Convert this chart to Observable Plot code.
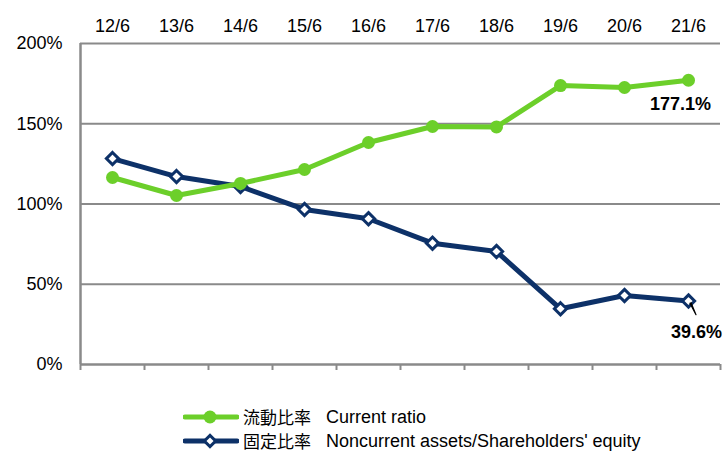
<!DOCTYPE html>
<html>
<head>
<meta charset="utf-8">
<script src="https://cdn.jsdelivr.net/npm/d3@7"></script>
<script src="https://cdn.jsdelivr.net/npm/@observablehq/plot@0.6"></script>
<style>
  body { margin: 0; background: #fff; font-family: "Liberation Sans", Arial, "Noto Sans CJK JP", sans-serif; }
  #chart { position: relative; width: 726px; height: 452px; overflow: hidden; }
  .legend { position: absolute; left: 183px; top: 405px; width: 540px; font-size: 18px; color: #000; white-space: nowrap; }
  .row { display: flex; align-items: center; height: 24px; line-height: 18px; white-space: nowrap; }
  .row svg { margin-right: 4px; flex: none; }
  .jp { font-family: "Noto Sans CJK JP", sans-serif; font-size: 17px; line-height: 18px; }
  .en { margin-left: 15px; line-height: 18px; }
</style>
</head>
<body>
<div id="chart"></div>
<script>
const periods = ["12/6","13/6","14/6","15/6","16/6","17/6","18/6","19/6","20/6","21/6"];
const currentRatio = [116.5,105.3,112.8,121.5,138.3,148.3,148.0,173.8,172.6,177.1];
const fixedRatio = [128.3,117.1,110.9,96.6,90.8,75.6,70.4,34.7,43.0,39.6];
const yTicks = [0,50,100,150,200];
const seriesNames = [["流動比率","Current ratio"],["固定比率","Noncurrent assets/Shareholders' equity"]];
const green = "#6ccf2a";
const navy = "#0d3168";
const grid = "#8a8a8a";

const data = periods.map((p,i) => ({i: i + 0.5, p, c: currentRatio[i], f: fixedRatio[i]}));
const last = data[data.length - 1];

const plot = Plot.plot({
  width: 726, height: 385,
  marginTop: 43, marginBottom: 21, marginLeft: 80, marginRight: 6,
  style: {fontFamily: "'Liberation Sans', Arial, sans-serif", fontSize: "18px", background: "#fff", overflow: "visible"},
  x: {domain: [0, periods.length], axis: null},
  y: {domain: [0, 200], axis: null},
  marks: [
    Plot.ruleY(yTicks.filter(d => d > 0), {stroke: grid, strokeWidth: 2}),
    Plot.ruleX([0], {stroke: grid, strokeWidth: 2.5}),
    Plot.ruleY([0], {stroke: grid, strokeWidth: 2.5}),
    Plot.axisX({anchor: "bottom", label: null, ticks: d3.range(periods.length + 1), tickFormat: () => "", tickSize: 6, stroke: grid, strokeWidth: 2}),
    Plot.axisX({anchor: "top", label: null, ticks: data.map(d => d.i), tickFormat: d => periods[d - 0.5], tickSize: 0, tickPadding: 12, fill: "#000"}),
    Plot.axisY({label: null, ticks: yTicks, tickFormat: d => d + "%", tickSize: 0, tickPadding: 18, fill: "#000"}),
    Plot.line(data, {x: "i", y: "f", stroke: navy, strokeWidth: 5}),
    Plot.dot(data, {x: "i", y: "f", symbol: "diamond2", r: 5.5, fill: "#fff", stroke: navy, strokeWidth: 3}),
    Plot.line(data, {x: "i", y: "c", stroke: green, strokeWidth: 5}),
    Plot.dot(data, {x: "i", y: "c", r: 6.5, fill: green}),
    Plot.text([last], {x: "i", y: "c", text: d => d.c.toFixed(1) + "%", dx: -8, dy: 24, fontWeight: "bold", fontSize: 18, fill: "#000"}),
    Plot.vector([last], {x: "i", y: "f", anchor: "start", shape: "spike", r: 0.6, length: 13, rotate: 155, dx: 2, dy: 2, stroke: "#000", fill: "#000", strokeWidth: 1.2}),
    Plot.text([last], {x: "i", y: "f", text: d => d.f.toFixed(1) + "%", dx: 8, dy: 31, fontWeight: "bold", fontSize: 18, fill: "#000"})
  ]
});
document.getElementById("chart").appendChild(plot);

const legend = document.createElement("div");
legend.className = "legend";
const styles = [{color: green, marker: "circle"}, {color: navy, marker: "diamond"}];
seriesNames.forEach((names, k) => {
  const row = document.createElement("div");
  row.className = "row";
  const s = styles[k];
  const marker = s.marker === "circle"
    ? `<circle cx="27" cy="8" r="6.5" fill="${s.color}"/>`
    : `<rect x="23" y="4" width="8" height="8" transform="rotate(45 27 8)" fill="#fff" stroke="${s.color}" stroke-width="3"/>`;
  row.innerHTML = `<svg width="56" height="16"><line x1="2" y1="8" x2="54" y2="8" stroke="${s.color}" stroke-width="5" stroke-linecap="round"/>${marker}</svg><span class="jp">${names[0]}</span><span class="en">${names[1]}</span>`;
  legend.appendChild(row);
});
document.getElementById("chart").appendChild(legend);
</script>
</body>
</html>
